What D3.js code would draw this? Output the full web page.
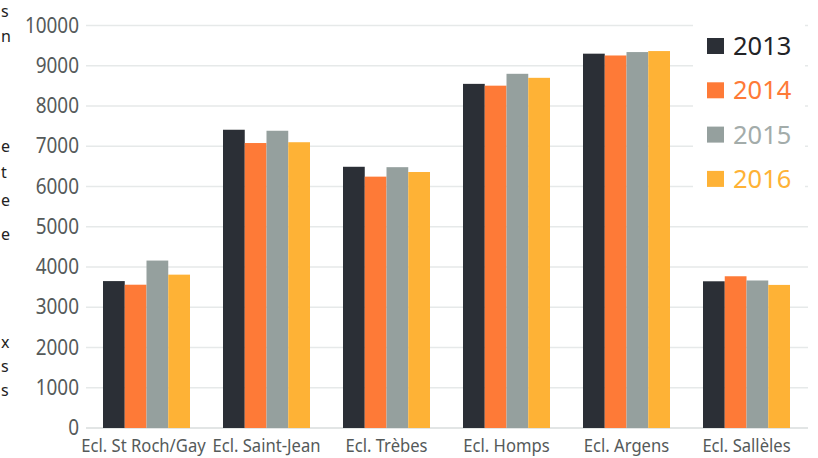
<!DOCTYPE html>
<html>
<head>
<meta charset="utf-8">
<script src="https://cdn.jsdelivr.net/npm/d3@7"></script>
<style>
  html, body { margin: 0; padding: 0; background: #fff; }
  svg { display: block; }
</style>
</head>
<body>
<svg id="chart" width="818" height="458"></svg>
<script>
const categories = ["Ecl. St Roch/Gay", "Ecl. Saint-Jean", "Ecl. Trèbes", "Ecl. Homps", "Ecl. Argens", "Ecl. Sallèles"];
const years = ["2013", "2014", "2015", "2016"];
const values2013 = [3650, 7410, 6490, 8550, 9300, 3645];
const values2014 = [3560, 7080, 6245, 8505, 9255, 3770];
const values2015 = [4160, 7385, 6480, 8800, 9340, 3665];
const values2016 = [3810, 7100, 6360, 8700, 9365, 3555];
const yTicks = [0, 1000, 2000, 3000, 4000, 5000, 6000, 7000, 8000, 9000, 10000];
const colors = ["#2b2f36", "#fe7a37", "#95a09e", "#feb236"];
const legendTextColors = ["#222326", "#fe7a37", "#a3acaa", "#feb236"];
const sideFragments = [
  {t: "s", y: 17}, {t: "n", y: 42}, {t: "e", y: 152}, {t: "t", y: 178},
  {t: "e", y: 206}, {t: "e", y: 240}, {t: "x", y: 348}, {t: "s", y: 372}, {t: "s", y: 396}
];

const series = [values2013, values2014, values2015, values2016];
const svg = d3.select("#chart");
const font = "'Noto Sans', 'Open Sans', sans-serif";

const x = d3.scaleBand().domain(categories).range([86.5, 806.5]).paddingInner(0.275).paddingOuter(0.1375);
const x1 = d3.scaleBand().domain(years).range([0, x.bandwidth()]).padding(0);
const y = d3.scaleLinear().domain([0, 10000]).range([428, 25.5]);

// gridlines
svg.append("g").selectAll("line").data(yTicks).join("line")
  .attr("x1", 86).attr("x2", 808)
  .attr("y1", d => y(d)).attr("y2", d => y(d))
  .attr("stroke", d => d === 0 ? "#d9dcdc" : "#e6e9e9")
  .attr("stroke-width", 1.6);

// y axis labels
const yAxis = d3.axisLeft(y).tickValues(yTicks).tickSize(0).tickPadding(0).tickFormat(d3.format("d"));
const ya = svg.append("g").attr("transform", "translate(79,0)").call(yAxis);
ya.select(".domain").remove();
ya.selectAll("text")
  .attr("x", 0).attr("dy", 0)
  .attr("transform", "translate(0,6.5) scale(0.97,1.1)")
  .attr("font-family", font).attr("font-size", 19.5).attr("fill", "#555a5a");

// bars
const groups = svg.append("g").selectAll("g").data(categories).join("g")
  .attr("transform", d => `translate(${x(d)},0)`);
groups.selectAll("rect").data((d, i) => years.map((yr, j) => ({yr, j, v: series[j][i]}))).join("rect")
  .attr("x", d => x1(d.yr))
  .attr("width", x1.bandwidth())
  .attr("y", d => y(d.v))
  .attr("height", d => y(0) - y(d.v))
  .attr("fill", d => colors[d.j]);

// x labels
const xAxis = d3.axisBottom(x).tickSize(0).tickPadding(0);
const xa = svg.append("g").attr("transform", "translate(0,441)").call(xAxis);
xa.select(".domain").remove();
xa.selectAll("text")
  .attr("y", 0).attr("dy", 0)
  .attr("transform", (d, i) => `translate(${i === 0 ? -3 : 0},11) scale(0.95,1.08)`)
  .attr("font-family", font).attr("font-size", 17.5).attr("fill", "#555a5a");

// legend
svg.append("rect").attr("x", 693).attr("y", 20).attr("width", 112).attr("height", 185).attr("fill", "#fff");
const leg = svg.append("g").selectAll("g").data(years).join("g")
  .attr("transform", (d, i) => `translate(707,${46 + i * 44.3})`);
leg.append("rect").attr("x", 0).attr("y", -8).attr("width", 17).attr("height", 16)
  .attr("fill", (d, i) => colors[i]);
leg.append("text").attr("x", 26).attr("y", 0).attr("dy", "0.36em")
  .attr("font-family", font).attr("font-size", 25.5)
  .attr("fill", (d, i) => legendTextColors[i])
  .text(d => d);

// text fragments at the left edge (from the surrounding page)
svg.append("g").selectAll("text").data(sideFragments).join("text")
  .attr("x", 1).attr("y", d => d.y).attr("text-anchor", "start")
  .attr("font-family", font).attr("font-size", 16).attr("fill", "#222")
  .text(d => d.t);
</script>
</body>
</html>
